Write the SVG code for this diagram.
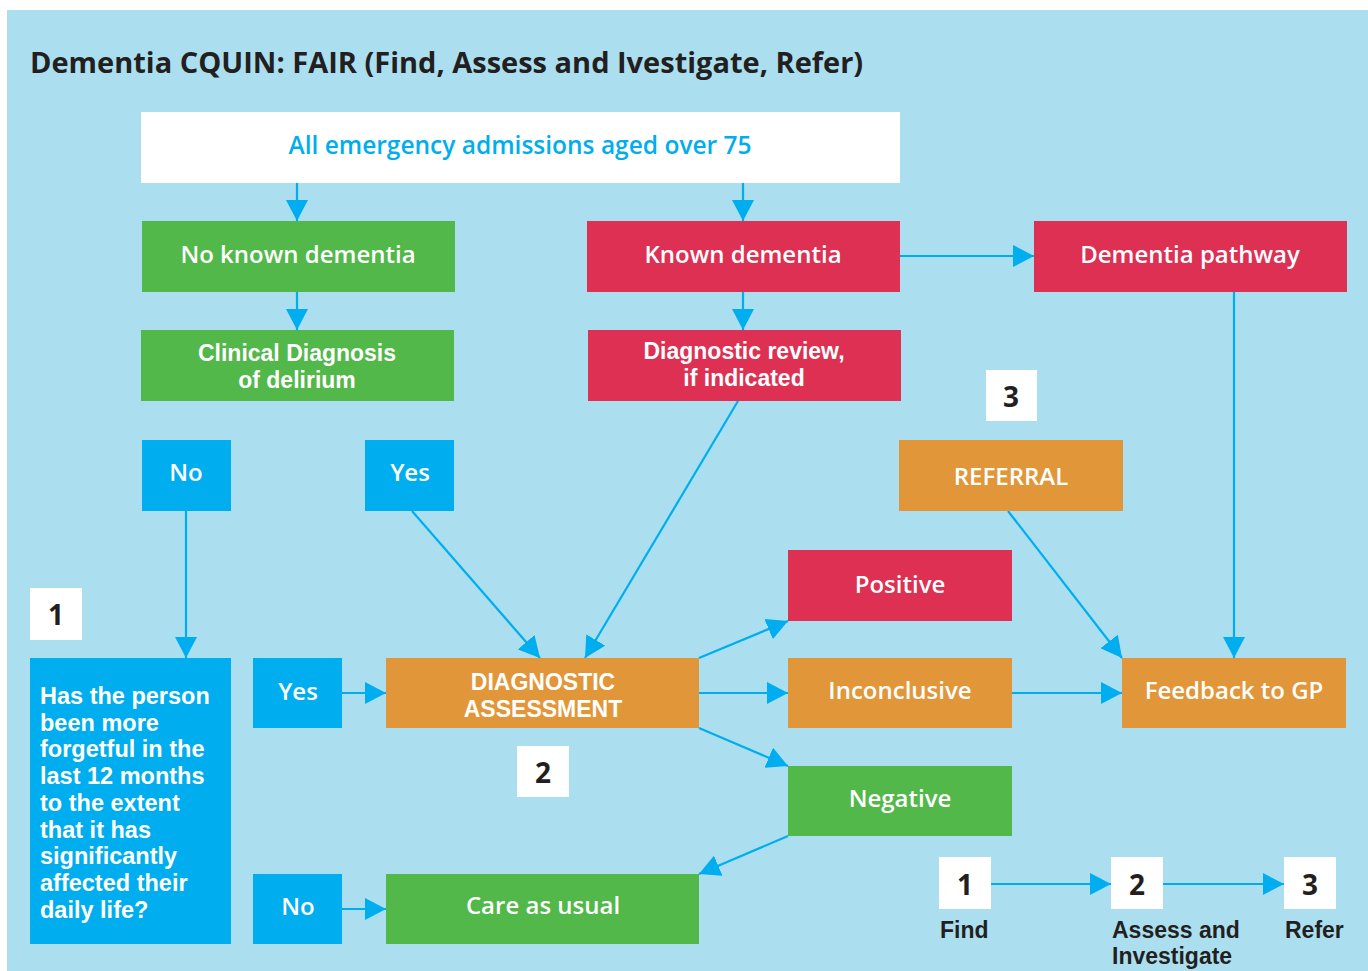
<svg xmlns="http://www.w3.org/2000/svg" width="1368" height="971" viewBox="0 0 1368 971">
<style>
.t{font-family:"Open Sans","Noto Sans","Liberation Sans",sans-serif;font-weight:600;}
.w{fill:#ffffff;font-size:24px;text-anchor:middle;}
.m{font-family:"Liberation Sans",Arial,sans-serif;font-weight:700;fill:#ffffff;font-size:23px;text-anchor:middle;}
.k{fill:#231f20;font-weight:700;}
.g{fill:#52b84a;}
.r{fill:#dd3052;}
.o{fill:#e19739;}
.b{fill:#00aeef;}
.wh{fill:#ffffff;}
.q{font-family:"Liberation Sans",Arial,sans-serif;font-weight:700;fill:#ffffff;font-size:23.5px;}
.l{font-family:"Liberation Sans",Arial,sans-serif;font-weight:700;fill:#231f20;font-size:23px;}
.c{stroke:#00aeef;stroke-width:2.2;fill:none;marker-end:url(#ah);}
</style>
<defs>
<marker id="ah" markerUnits="userSpaceOnUse" markerWidth="22" markerHeight="22" viewBox="0 0 22 22" refX="21" refY="11" orient="auto">
<path d="M0,0 L21,11 L0,22 Z" fill="#00aeef"/>
</marker>
</defs>
<rect x="0" y="0" width="1368" height="971" fill="#ffffff"/>
<rect x="7" y="10" width="1361" height="961" fill="#abdff0"/>
<text class="t k" x="30" y="73" font-size="29">Dementia CQUIN: FAIR (Find, Assess and Ivestigate, Refer)</text>

<g id="connectors">
<path class="c" d="M297,183 V221"/>
<path class="c" d="M743,183 V221"/>
<path class="c" d="M297,292 V330"/>
<path class="c" d="M743,292 V330"/>
<path class="c" d="M900,256 H1034"/>
<path class="c" d="M1234,292 V658"/>
<path class="c" d="M186,511 V658"/>
<path class="c" d="M412,511 L540,658"/>
<path class="c" d="M738,401 L585,658"/>
<path class="c" d="M1008,511 L1122,658"/>
<path class="c" d="M699,658 L788,621"/>
<path class="c" d="M699,693 H788"/>
<path class="c" d="M699,728 L788,766"/>
<path class="c" d="M1012,693 H1122"/>
<path class="c" d="M788,836 L699,874"/>
<path class="c" d="M342,693 H386"/>
<path class="c" d="M342,909 H386"/>
<path class="c" d="M991,884 H1111"/>
<path class="c" d="M1163,884 H1284"/>
</g>

<g id="n-all"><rect class="wh" x="141" y="112" width="759" height="71"/><text class="t" x="520" y="154" font-size="24.5" fill="#00aeef" text-anchor="middle">All emergency admissions aged over 75</text></g>
<g id="n-noknown"><rect class="g" x="142" y="221" width="313" height="71"/><text class="t w" x="298" y="263">No known dementia</text></g>
<g id="n-known"><rect class="r" x="587" y="221" width="313" height="71"/><text class="t w" x="743" y="263">Known dementia</text></g>
<g id="n-pathway"><rect class="r" x="1034" y="221" width="313" height="71"/><text class="t w" x="1190" y="263">Dementia pathway</text></g>
<g id="n-clinical"><rect class="g" x="141" y="330" width="313" height="71"/><text class="m" x="297" y="361">Clinical Diagnosis</text><text class="m" x="297" y="388">of delirium</text></g>
<g id="n-review"><rect class="r" x="588" y="330" width="313" height="71"/><text class="m" x="744" y="359">Diagnostic review,</text><text class="m" x="744" y="386">if indicated</text></g>
<g id="n-step3"><rect class="wh" x="986" y="370" width="51" height="51"/><text class="t k" x="1011" y="407" font-size="28" text-anchor="middle">3</text></g>
<g id="n-no1"><rect class="b" x="142" y="440" width="89" height="71"/><text class="t w" x="186" y="481">No</text></g>
<g id="n-yes1"><rect class="b" x="365" y="440" width="89" height="71"/><text class="t w" x="410" y="481">Yes</text></g>
<g id="n-referral"><rect class="o" x="899" y="440" width="224" height="71"/><text class="t w" x="1011" y="485">REFERRAL</text></g>
<g id="n-step1"><rect class="wh" x="30" y="588" width="52" height="52"/><text class="t k" x="56" y="625" font-size="28" text-anchor="middle">1</text></g>
<g id="n-positive"><rect class="r" x="788" y="550" width="224" height="71"/><text class="t w" x="900" y="593">Positive</text></g>
<g id="n-question"><rect class="b" x="30" y="658" width="201" height="286"/>
<text class="q" x="40">
<tspan x="40" y="704">Has the person</tspan>
<tspan x="40" y="730.7">been more</tspan>
<tspan x="40" y="757.4">forgetful in the</tspan>
<tspan x="40" y="784.1">last 12 months</tspan>
<tspan x="40" y="810.8">to the extent</tspan>
<tspan x="40" y="837.5">that it has</tspan>
<tspan x="40" y="864.2">significantly</tspan>
<tspan x="40" y="890.9">affected their</tspan>
<tspan x="40" y="917.6">daily life?</tspan>
</text></g>
<g id="n-yes2"><rect class="b" x="253" y="658" width="89" height="70"/><text class="t w" x="298" y="700">Yes</text></g>
<g id="n-assess"><rect class="o" x="386" y="658" width="313" height="70"/><text class="m" x="543" y="690">DIAGNOSTIC</text><text class="m" x="543" y="716.5">ASSESSMENT</text></g>
<g id="n-inconclusive"><rect class="o" x="788" y="658" width="224" height="70"/><text class="t w" x="900" y="699">Inconclusive</text></g>
<g id="n-feedback"><rect class="o" x="1122" y="658" width="224" height="70"/><text class="t w" x="1234" y="699">Feedback to GP</text></g>
<g id="n-step2"><rect class="wh" x="517" y="746" width="52" height="51"/><text class="t k" x="543" y="783" font-size="28" text-anchor="middle">2</text></g>
<g id="n-negative"><rect class="g" x="788" y="766" width="224" height="70"/><text class="t w" x="900" y="807">Negative</text></g>
<g id="n-no2"><rect class="b" x="253" y="874" width="89" height="70"/><text class="t w" x="298" y="915">No</text></g>
<g id="n-care"><rect class="g" x="386" y="874" width="313" height="70"/><text class="t w" x="543" y="914">Care as usual</text></g>
<g id="legend">
<rect class="wh" x="939" y="857" width="52" height="52"/><text class="t k" x="965" y="895" font-size="28" text-anchor="middle">1</text>
<rect class="wh" x="1111" y="857" width="52" height="52"/><text class="t k" x="1137" y="895" font-size="28" text-anchor="middle">2</text>
<rect class="wh" x="1284" y="857" width="52" height="52"/><text class="t k" x="1310" y="895" font-size="28" text-anchor="middle">3</text>
<text class="l" x="940" y="938">Find</text>
<text class="l" x="1112" y="938">Assess and</text>
<text class="l" x="1112" y="964">Investigate</text>
<text class="l" x="1285" y="938">Refer</text>
</g>
</svg>
